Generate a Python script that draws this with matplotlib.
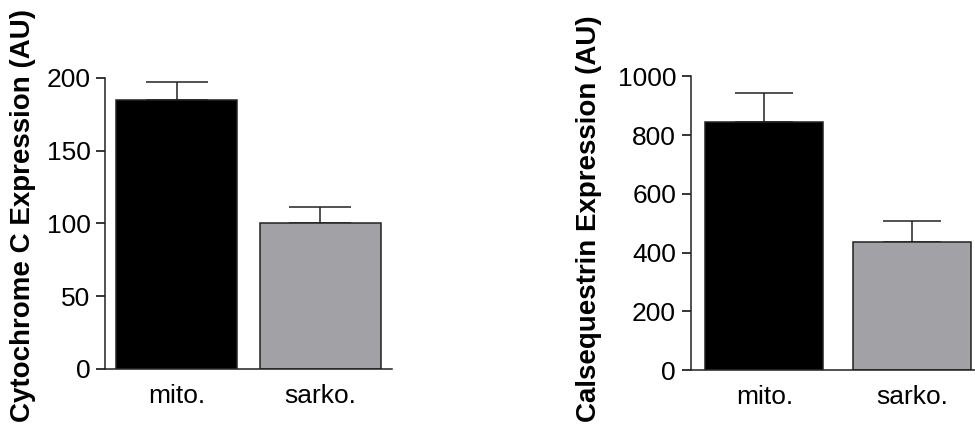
import numpy as np
import matplotlib
matplotlib.use("Agg")
import matplotlib.pyplot as plt

plt.rcParams['font.family'] = ['Liberation Sans', 'DejaVu Sans']

groups = ["mito.", "sarko."]
bar_colors = ["#000000", "#a2a1a5"]

# Cytochrome C
cyto_mean = [185, 100]
cyto_err = [12, 11]

# Calsequestrin
calse_mean = [843, 436]
calse_err = [99, 70]

fig = plt.figure(figsize=(9.75, 4.28), dpi=100)

W, H = 975.0, 428.0


def panel(rect_px, means, errs, ylim, yticks, ylabel, label_xy, width, capsize):
    x0, y_top, x1, y_bot = rect_px
    ax = fig.add_axes([x0 / W, 1 - y_bot / H, (x1 - x0) / W, (y_bot - y_top) / H])
    x = np.arange(len(groups))
    ax.bar(x, means, width=width, color=bar_colors, edgecolor="#222222",
           linewidth=1.1, zorder=2)
    ax.errorbar(x, means, yerr=[np.zeros(len(errs)), errs], fmt="none",
                ecolor="#222222", elinewidth=1.1, capsize=capsize,
                capthick=1.1, zorder=1)
    ax.set_xlim(-0.5, 1.5)
    ax.set_ylim(*ylim)
    ax.set_yticks(yticks)
    ax.set_xticks(x)
    ax.set_xticklabels(groups, fontsize=19)
    ax.tick_params(axis="x", length=0, pad=11)
    ax.tick_params(axis="y", labelsize=19, length=6.5, width=1.1, pad=4)
    for s in ["top", "right"]:
        ax.spines[s].set_visible(False)
    for s in ["left", "bottom"]:
        ax.spines[s].set_linewidth(1.1)
        ax.spines[s].set_color("#222222")
    fig.text(label_xy[0] / W, 1 - label_xy[1] / H, ylabel, rotation=90,
             ha="center", va="center", fontsize=20, fontweight="bold")
    return ax


panel((105, 77.7, 392, 369), cyto_mean, cyto_err, (0, 200),
      [0, 50, 100, 150, 200], "Cytochrome C Expression (AU)", (23, 216),
      0.843, 22)
panel((690.7, 76.3, 985.7, 370), calse_mean, calse_err, (0, 1000),
      [0, 200, 400, 600, 800, 1000], "Calsequestrin Expression (AU)", (589, 219),
      0.80, 21)

fig.savefig("out.png", dpi=100)
